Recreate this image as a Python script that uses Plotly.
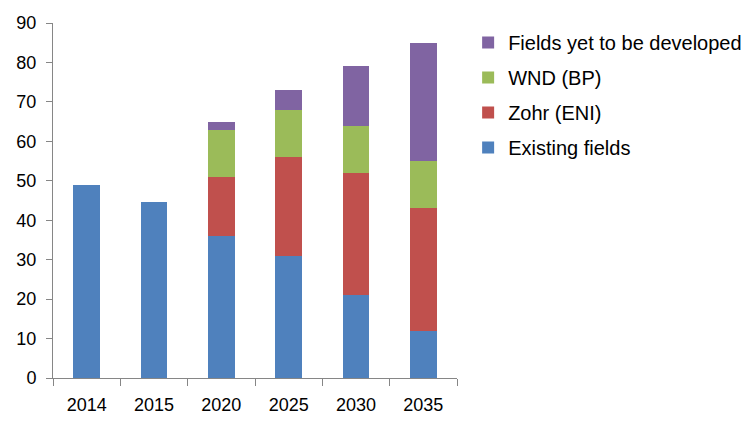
import plotly.graph_objects as go

years = ["2014", "2015", "2020", "2025", "2030", "2035"]
existing = [49, 44.5, 36, 31, 21, 12]
zohr = [0, 0, 15, 25, 31, 31]
wnd = [0, 0, 12, 12, 12, 12]
yet = [0, 0, 2, 5, 15, 30]

names = ["Existing fields", "Zohr (ENI)", "WND (BP)", "Fields yet to be developed"]
colors = ["#4F81BD", "#C0504D", "#9BBB59", "#8064A2"]
series = [existing, zohr, wnd, yet]

fig = go.Figure()
for i, (n, c, s) in enumerate(zip(names, colors, series)):
    fig.add_trace(go.Bar(x=years, y=s, name=n, marker=dict(color=c, line=dict(width=0)),
                         legendgroup=n, legendrank=len(names) - i))

font = "Liberation Sans"
fig.update_layout(
    width=750, height=431,
    barmode="stack", bargap=0.6,
    margin=dict(l=45, r=300, t=15, b=61),
    paper_bgcolor="white", plot_bgcolor="white",
    font=dict(family=font, size=18, color="#000000"),
    showlegend=True,
    legend=dict(x=1.025, y=1.0, xanchor="left", yanchor="top",
                traceorder="grouped", tracegroupgap=6,
                font=dict(family=font, size=20), itemwidth=30),
    xaxis=dict(type="category", showline=True, linecolor="#868686", linewidth=1,
               ticks="outside", tickson="boundaries", ticklen=7, tickcolor="#868686",
               showgrid=False, ticklabelstandoff=10, automargin=False),
    yaxis=dict(range=[0, 90], dtick=10, showline=True, linecolor="#868686", linewidth=1,
               ticks="outside", ticklen=6, tickcolor="#868686", showgrid=False,
               zeroline=False, ticklabelstandoff=6, automargin=False),
)
fig.write_html("out.html")
